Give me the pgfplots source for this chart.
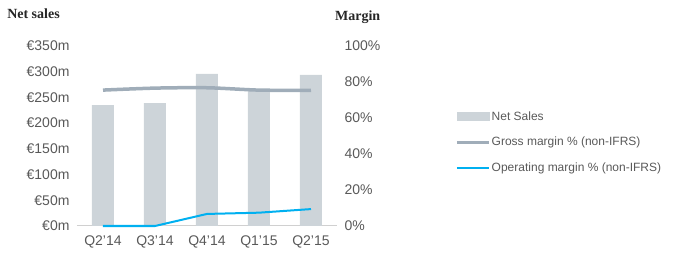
\documentclass[border=0pt]{standalone}
\usepackage{fontspec}
\setmainfont{Liberation Sans}
\newfontfamily\titlefont{Liberation Serif}
\usepackage{pgfplots}
\pgfplotsset{compat=1.18}
\definecolor{barc}{HTML}{CDD4D9}
\definecolor{grossc}{HTML}{A0ADB9}
\definecolor{opc}{HTML}{00B0F0}
\definecolor{txt}{HTML}{595959}
\definecolor{axc}{HTML}{D0D0D0}
\begin{document}
\begin{tikzpicture}
\useasboundingbox (-77bp,-33bp) rectangle (610bp,226bp);
\begin{axis}[
  scale only axis, width=260bp, height=180bp,
  at={(0,0)}, anchor=south west,
  xmin=-0.5, xmax=4.5, ymin=0, ymax=350,
  xtick={0,1,2,3,4},
  xticklabels={Q2'14,Q3'14,Q4'14,Q1'15,Q2'15},
  ytick={0,50,100,150,200,250,300,350},
  yticklabels={€0m,€50m,€100m,€150m,€200m,€250m,€300m,€350m},
  tick style={draw=none},
  axis line style={draw=none},
  axis x line*=bottom, axis y line*=left,
  x axis line style={draw=axc, line width=1bp},
  every tick label/.append style={font=\fontsize{14bp}{16bp}\selectfont, text=txt},
  yticklabel style={xshift=-4bp},
  xticklabel style={yshift=-6bp},
  clip=false,
]
\addplot[ybar, bar width=22bp, fill=barc, draw=none] coordinates {
  (0,235) (1,239) (2,296) (3,266) (4,294)};
\node[anchor=west, inner sep=0, font=\titlefont\bfseries\fontsize{14bp}{16bp}\selectfont, text=black!85] at (axis description cs:-0.269,1.178) {Net sales};
\node[anchor=west, inner sep=0, font=\titlefont\bfseries\fontsize{14bp}{16bp}\selectfont, text=black!85] at (axis description cs:0.992,1.161) {Margin};
\end{axis}
\begin{axis}[
  scale only axis, width=260bp, height=180bp,
  at={(0,0)}, anchor=south west,
  xmin=-0.5, xmax=4.5, ymin=0, ymax=100,
  axis x line=none,
  axis y line*=right,
  y axis line style={draw=none},
  ytick={0,20,40,60,80,100},
  yticklabels={0\%,20\%,40\%,60\%,80\%,100\%},
  tick style={draw=none},
  every tick label/.append style={font=\fontsize{14bp}{16bp}\selectfont, text=txt},
  yticklabel style={xshift=4bp},
  legend style={draw=none, fill=none, at={(axis description cs:1.454,0.465)}, anchor=west,
    font=\fontsize{12bp}{14bp}\selectfont, text=txt, row sep=13.5bp, inner sep=0pt,
    nodes={inner sep=1bp}},
  legend cell align=left,
  clip=false,
]
\addlegendimage{legend image code/.code={\fill[barc] (0bp,-4bp) rectangle (32bp,4bp);}}
\addlegendentry{Net Sales}
\addplot[grossc, line width=3.5bp, smooth, legend image code/.code={\draw[grossc, line width=3.5bp] (0bp,0bp) -- (32bp,0bp);}] coordinates {
  (0,75.5) (1,76.6) (2,76.8) (3,75.5) (4,75.4)};
\addlegendentry{Gross margin \% (non-IFRS)}
\addplot[opc, line width=2bp, legend image code/.code={\draw[opc, line width=2bp] (0bp,0bp) -- (32bp,0bp);}] coordinates {
  (0,0) (1,0) (2,6.7) (3,7.4) (4,9.4)};
\addlegendentry{Operating margin \% (non-IFRS)}
\end{axis}
\end{tikzpicture}
\end{document}
